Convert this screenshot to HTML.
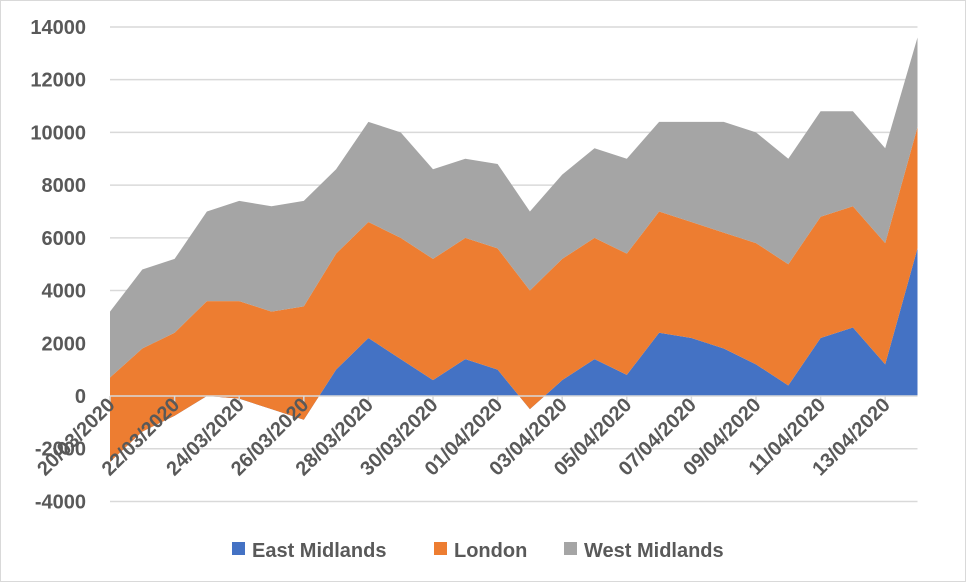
<!DOCTYPE html>
<html><head><meta charset="utf-8"><style>
body{margin:0;background:#fff;}
svg{display:block;font-family:"Liberation Sans",sans-serif;}
</style></head><body>
<svg id="chart" width="966" height="582" viewBox="0 0 966 582">
<rect x="0.5" y="0.5" width="965" height="581" fill="#fff" stroke="#d9d9d9"/>
<g id="grid"></g><g id="areas"></g><g id="axis"></g><g id="ylabels"></g><g id="xlabels"></g>
<g>
<rect x="232" y="542" width="13" height="13" fill="#4472c4"/>
<text x="252" y="557" font-size="20" font-weight="bold" fill="#595959">East Midlands</text>
<rect x="434" y="542" width="13" height="13" fill="#ed7d31"/>
<text x="454" y="557" font-size="20" font-weight="bold" fill="#595959">London</text>
<rect x="564" y="542" width="13" height="13" fill="#a5a5a5"/>
<text x="584" y="557" font-size="20" font-weight="bold" fill="#595959">West Midlands</text>
</g>
</svg>
<script>
const dates=["20/03/2020","21/03/2020","22/03/2020","23/03/2020","24/03/2020","25/03/2020","26/03/2020","27/03/2020","28/03/2020","29/03/2020","30/03/2020","31/03/2020","01/04/2020","02/04/2020","03/04/2020","04/04/2020","05/04/2020","06/04/2020","07/04/2020","08/04/2020","09/04/2020","10/04/2020","11/04/2020","12/04/2020","13/04/2020","14/04/2020"];
const eastMidlands=[-2500,-1350,-750,0,-100,-500,-900,1000,2200,1400,600,1400,1000,-500,600,1400,800,2400,2200,1800,1200,400,2200,2600,1200,5600];
const london=[3200,3150,3150,3600,3700,3700,4300,4400,4400,4600,4600,4600,4600,4500,4600,4600,4600,4600,4400,4400,4600,4600,4600,4600,4600,4600];
const westMidlands=[2500,3000,2800,3400,3800,4000,4000,3200,3800,4000,3400,3000,3200,3000,3200,3400,3600,3400,3800,4200,4200,4000,4000,3600,3600,3400];
const yTicks=[-4000,-2000,0,2000,4000,6000,8000,10000,12000,14000];
const NS="http://www.w3.org/2000/svg";
const X0=110,DX=32.3;
const xs=i=>X0+i*DX;
const ys=v=>396-v*0.02636;
function mk(t,a,p){const e=document.createElementNS(NS,t);for(const k in a)e.setAttribute(k,a[k]);p.appendChild(e);return e;}
const grid=document.getElementById('grid'),yl=document.getElementById('ylabels');
yTicks.forEach(v=>{
 if(v!==0){const l=mk('line',{x1:X0,x2:xs(dates.length-1),y1:ys(v),y2:ys(v),stroke:'#d9d9d9','stroke-width':1.5},grid);
 
 }
 const t=mk('text',{x:86,y:ys(v)+7,'text-anchor':'end','font-size':20,'font-weight':'bold',fill:'#595959'},yl);
 t.textContent=v;
 
 
});
const c1=eastMidlands.slice(),c2=c1.map((v,i)=>v+london[i]),c3=c2.map((v,i)=>v+westMidlands[i]);
const zero=c1.map(()=>0);
function area(lo,hi,col,name){
 let d='M'+hi.map((v,i)=>xs(i)+','+ys(v)).join('L');
 for(let i=lo.length-1;i>=0;i--)d+='L'+xs(i)+','+ys(lo[i]);
 const p=mk('path',{d:d+'Z',fill:col},document.getElementById('areas'));
 
 
}
area(zero,c1,'#4472c4','area-east-midlands');
area(c1,c2,'#ed7d31','area-london');
area(c2,c3,'#a5a5a5','area-west-midlands');
const ax=document.getElementById('axis');
const al=mk('line',{x1:X0,x2:xs(dates.length-1),y1:396,y2:396,stroke:'#d9d9d9','stroke-width':1.5},ax);


const xl=document.getElementById('xlabels');
dates.forEach((d,i)=>{
 if(i%2)return;
 const tk=mk('line',{x1:xs(i),x2:xs(i),y1:396,y2:402,stroke:'#d9d9d9','stroke-width':1.5},ax);
 
 
 const x=xs(i)+6,y=406;
 const t=mk('text',{x:x,y:y,'text-anchor':'end','font-size':20,'font-weight':'bold',fill:'#595959',transform:`rotate(-45 ${x} ${y})`},xl);
 t.textContent=d;
 
 
});
</script>
</body></html>
